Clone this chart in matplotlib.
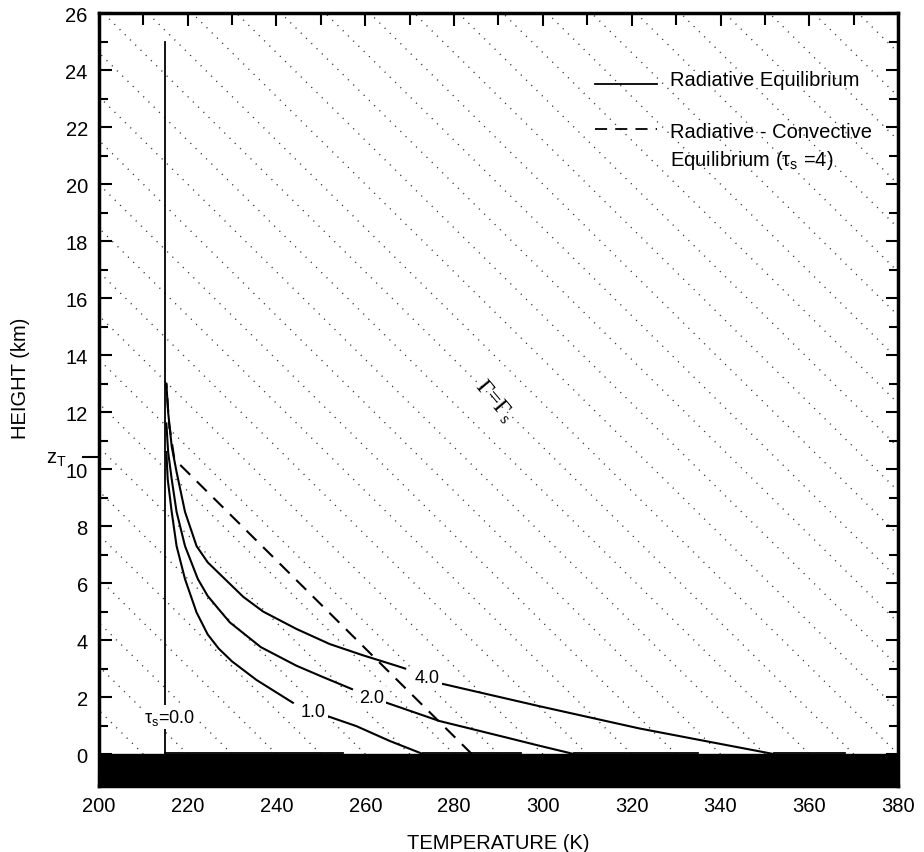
import matplotlib
matplotlib.use('Agg')
import matplotlib.pyplot as plt
import matplotlib.transforms as mtransforms
from matplotlib.ticker import MultipleLocator

plt.rcParams['font.family'] = ['Liberation Sans', 'DejaVu Sans']
plt.rcParams['mathtext.default'] = 'regular'

# radiative equilibrium profiles (T in K, z in km), split at the contour label
tau1_upper_T = [215.2, 215.5, 216.4, 217.5, 219.4, 222.0, 224.5, 227.0, 230.0, 235.5, 243.7]
tau1_upper_z = [10.6, 9.65, 8.5, 7.3, 6.14, 4.97, 4.2, 3.7, 3.25, 2.6, 1.8]
tau1_lower_T = [251.5, 258.0, 265.5, 273.0]
tau1_lower_z = [1.33, 0.98, 0.46, 0.0]

tau2_upper_T = [215.2, 215.6, 216.4, 217.5, 219.4, 222.3, 224.5, 227.6, 229.5, 236.5, 244.5, 250.5, 257.0]
tau2_upper_z = [11.6, 10.6, 9.65, 8.5, 7.3, 6.14, 5.55, 4.97, 4.62, 3.75, 3.1, 2.7, 2.28]
tau2_lower_T = [264.8, 276.7, 291.8, 299.0, 307.0]
tau2_lower_z = [1.8, 1.16, 0.58, 0.3, 0.0]

tau4_upper_T = [215.2, 215.6, 216.4, 217.5, 219.4, 222.0, 224.5, 228.4, 232.5, 237.0, 244.5, 252.0, 259.4, 267.0, 269.0]
tau4_upper_z = [13.0, 12.0, 10.8, 9.9, 8.5, 7.3, 6.73, 6.14, 5.52, 5.0, 4.39, 3.86, 3.47, 3.1, 3.0]
tau4_lower_T = [277.5, 299.2, 321.7, 336.8, 352.0]
tau4_lower_z = [2.46, 1.68, 0.9, 0.45, 0.0]

tau0_T = [215.0, 215.0]
tau0_z = [0.0, 25.0]

# radiative-convective equilibrium, tau_s = 4
rce_T = [284.0, 217.0, 215.8, 215.2]
rce_z = [0.0, 10.35, 11.6, 13.0]

# ground temperature segments drawn along the surface
ground_start = [215, 273, 307, 352]
ground_end = [255, 295, 335, 368]

# background lines of constant lapse rate
lapse = 6.5
adiabat_T0 = list(range(200, 560, 10))

curve_labels = ['1.0', '2.0', '4.0']
label_T = [248.2, 261.4, 274.0]
label_z = [1.5, 2.0, 2.7]

z_T = 10.42

fig = plt.figure(figsize=(9.24, 8.53), dpi=100)
ax = fig.add_axes([0.107, 0.0774, 0.865, 0.906])

for T0 in adiabat_T0:
    ax.plot([T0, T0 - lapse * 26], [0, 26], color='0.2', lw=1.0,
            dashes=(0.8, 4.5), zorder=1)

kw = dict(color='black', lw=1.5, zorder=3)
ax.plot(tau0_T, tau0_z, color='black', lw=1.3, zorder=3)
ax.plot(tau1_upper_T, tau1_upper_z, **kw)
ax.plot(tau1_lower_T, tau1_lower_z, **kw)
ax.plot(tau2_upper_T, tau2_upper_z, **kw)
ax.plot(tau2_lower_T, tau2_lower_z, **kw)
ax.plot(tau4_upper_T, tau4_upper_z, **kw)
ax.plot(tau4_lower_T, tau4_lower_z, **kw)
ax.plot(rce_T, rce_z, color='black', lw=1.5, dashes=(6.7, 4.5), zorder=3)

for t0, t1 in zip(ground_start, ground_end):
    ax.plot([t0, t1], [0.05, 0.05], color='black', lw=1.3, zorder=3)

ax.axhspan(-1.12, 0, color='black', zorder=4)

for lab, t, z in zip(curve_labels, label_T, label_z):
    ax.text(t, z, lab, fontsize=13, ha='center', va='center', zorder=5,
            bbox=dict(boxstyle='square,pad=0.12', fc='white', ec='none'))
ax.text(216.0, 1.3, r'τ$_s$=0.0', fontsize=13, ha='center', va='center', zorder=5,
        bbox=dict(boxstyle='square,pad=0.12', fc='white', ec='none'))

ax.text(289.0, 12.4, r'Γ=Γ$_s$', fontsize=17, rotation=-50, family='Liberation Serif',
        ha='center', va='center', zorder=5)

# legend drawn by hand
ax.plot([0.621, 0.698], [0.908, 0.908], transform=ax.transAxes, color='black', lw=1.3)
ax.plot([0.621, 0.698], [0.850, 0.850], transform=ax.transAxes, color='black', lw=1.3,
        dashes=(6.7, 4.5))
ax.text(0.715, 0.907, 'Radiative Equilibrium', transform=ax.transAxes,
        fontsize=14.5, va='baseline')
ax.text(0.715, 0.8396, 'Radiative - Convective', transform=ax.transAxes,
        fontsize=14.5, va='baseline')
ax.text(0.715, 0.803, r'Equilibrium (τ$_s$ =4)', transform=ax.transAxes,
        fontsize=14.5, va='baseline')

# tropopause marker on the height axis
trans = mtransforms.blended_transform_factory(ax.transAxes, ax.transData)
ax.plot([-0.02, 0], [z_T, z_T], transform=trans, color='black', lw=1.5, clip_on=False)
ax.text(-0.053, z_T - 0.05, r'z$_T$', transform=trans, fontsize=14.5,
        ha='center', va='center')

ax.set_xlim(200, 380)
ax.set_ylim(-1.12, 26)
ax.xaxis.set_major_locator(MultipleLocator(20))
ax.xaxis.set_minor_locator(MultipleLocator(10))
ax.yaxis.set_major_locator(MultipleLocator(2))
ax.yaxis.set_minor_locator(MultipleLocator(1))
ax.set_yticks(range(0, 27, 2))
ax.tick_params(which='both', direction='in', top=True, right=True,
               width=1.5, labelsize=14.5)
ax.tick_params(which='major', length=9)
ax.tick_params(which='minor', length=6.5)
ax.tick_params(axis='x', which='minor', length=8.5)
ax.tick_params(axis='x', pad=7)
ax.tick_params(axis='y', pad=8)
for sp in ax.spines.values():
    sp.set_linewidth(2.5)

ax.set_xlabel('TEMPERATURE (K)', fontsize=14.5)
ax.xaxis.set_label_coords(0.5, -0.061)
ax.set_ylabel('HEIGHT (km)', fontsize=14.5)
ax.yaxis.set_label_coords(-0.086, 0.529)

fig.savefig('out.png', dpi=100)
